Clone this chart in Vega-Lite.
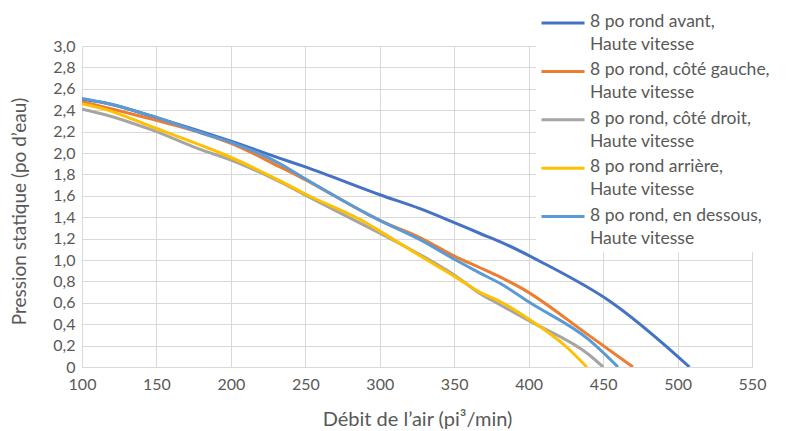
{
  "$schema": "https://vega.github.io/schema/vega-lite/v6.json",
  "width": 670,
  "height": 321,
  "autosize": {"type": "none"},
  "padding": {"left": 82, "top": 46, "right": 34, "bottom": 64},
  "background": "white",
  "config": {
    "font": "Lato",
    "view": {"stroke": null},
    "axis": {
      "labelColor": "#595959",
      "titleColor": "#595959",
      "labelFont": "Lato",
      "titleFont": "Lato",
      "labelFontSize": 16,
      "titleFontSize": 20,
      "titleFontWeight": "normal",
      "gridColor": "#d9d9d9",
      "gridWidth": 1,
      "ticks": false
    }
  },
  "data": {
    "values": [
      {"serie": "8 po rond avant, Haute vitesse", "debit": 100, "pression": 2.50},
      {"serie": "8 po rond avant, Haute vitesse", "debit": 115, "pression": 2.47},
      {"serie": "8 po rond avant, Haute vitesse", "debit": 150, "pression": 2.33},
      {"serie": "8 po rond avant, Haute vitesse", "debit": 200, "pression": 2.11},
      {"serie": "8 po rond avant, Haute vitesse", "debit": 233, "pression": 1.95},
      {"serie": "8 po rond avant, Haute vitesse", "debit": 250, "pression": 1.87},
      {"serie": "8 po rond avant, Haute vitesse", "debit": 300, "pression": 1.61},
      {"serie": "8 po rond avant, Haute vitesse", "debit": 327, "pression": 1.48},
      {"serie": "8 po rond avant, Haute vitesse", "debit": 350, "pression": 1.35},
      {"serie": "8 po rond avant, Haute vitesse", "debit": 367, "pression": 1.25},
      {"serie": "8 po rond avant, Haute vitesse", "debit": 381, "pression": 1.17},
      {"serie": "8 po rond avant, Haute vitesse", "debit": 410, "pression": 0.97},
      {"serie": "8 po rond avant, Haute vitesse", "debit": 455, "pression": 0.61},
      {"serie": "8 po rond avant, Haute vitesse", "debit": 500, "pression": 0.10},
      {"serie": "8 po rond avant, Haute vitesse", "debit": 508, "pression": 0.00},

      {"serie": "8 po rond, côté gauche, Haute vitesse", "debit": 100, "pression": 2.48},
      {"serie": "8 po rond, côté gauche, Haute vitesse", "debit": 146, "pression": 2.32},
      {"serie": "8 po rond, côté gauche, Haute vitesse", "debit": 184, "pression": 2.17},
      {"serie": "8 po rond, côté gauche, Haute vitesse", "debit": 200, "pression": 2.09},
      {"serie": "8 po rond, côté gauche, Haute vitesse", "debit": 233, "pression": 1.87},
      {"serie": "8 po rond, côté gauche, Haute vitesse", "debit": 246, "pression": 1.78},
      {"serie": "8 po rond, côté gauche, Haute vitesse", "debit": 293, "pression": 1.42},
      {"serie": "8 po rond, côté gauche, Haute vitesse", "debit": 300, "pression": 1.37},
      {"serie": "8 po rond, côté gauche, Haute vitesse", "debit": 327, "pression": 1.21},
      {"serie": "8 po rond, côté gauche, Haute vitesse", "debit": 351, "pression": 1.03},
      {"serie": "8 po rond, côté gauche, Haute vitesse", "debit": 367, "pression": 0.93},
      {"serie": "8 po rond, côté gauche, Haute vitesse", "debit": 381, "pression": 0.84},
      {"serie": "8 po rond, côté gauche, Haute vitesse", "debit": 396, "pression": 0.73},
      {"serie": "8 po rond, côté gauche, Haute vitesse", "debit": 440, "pression": 0.30},
      {"serie": "8 po rond, côté gauche, Haute vitesse", "debit": 470, "pression": 0.00},

      {"serie": "8 po rond, côté droit, Haute vitesse", "debit": 100, "pression": 2.41},
      {"serie": "8 po rond, côté droit, Haute vitesse", "debit": 115, "pression": 2.36},
      {"serie": "8 po rond, côté droit, Haute vitesse", "debit": 146, "pression": 2.22},
      {"serie": "8 po rond, côté droit, Haute vitesse", "debit": 184, "pression": 2.01},
      {"serie": "8 po rond, côté droit, Haute vitesse", "debit": 193, "pression": 1.97},
      {"serie": "8 po rond, côté droit, Haute vitesse", "debit": 233, "pression": 1.73},
      {"serie": "8 po rond, côté droit, Haute vitesse", "debit": 251, "pression": 1.60},
      {"serie": "8 po rond, côté droit, Haute vitesse", "debit": 293, "pression": 1.30},
      {"serie": "8 po rond, côté droit, Haute vitesse", "debit": 300, "pression": 1.25},
      {"serie": "8 po rond, côté droit, Haute vitesse", "debit": 327, "pression": 1.05},
      {"serie": "8 po rond, côté droit, Haute vitesse", "debit": 351, "pression": 0.85},
      {"serie": "8 po rond, côté droit, Haute vitesse", "debit": 367, "pression": 0.69},
      {"serie": "8 po rond, côté droit, Haute vitesse", "debit": 381, "pression": 0.58},
      {"serie": "8 po rond, côté droit, Haute vitesse", "debit": 402, "pression": 0.42},
      {"serie": "8 po rond, côté droit, Haute vitesse", "debit": 441, "pression": 0.11},
      {"serie": "8 po rond, côté droit, Haute vitesse", "debit": 450, "pression": 0.00},

      {"serie": "8 po rond arrière, Haute vitesse", "debit": 100, "pression": 2.46},
      {"serie": "8 po rond arrière, Haute vitesse", "debit": 115, "pression": 2.41},
      {"serie": "8 po rond arrière, Haute vitesse", "debit": 146, "pression": 2.25},
      {"serie": "8 po rond arrière, Haute vitesse", "debit": 184, "pression": 2.05},
      {"serie": "8 po rond arrière, Haute vitesse", "debit": 193, "pression": 2.00},
      {"serie": "8 po rond arrière, Haute vitesse", "debit": 233, "pression": 1.74},
      {"serie": "8 po rond arrière, Haute vitesse", "debit": 251, "pression": 1.61},
      {"serie": "8 po rond arrière, Haute vitesse", "debit": 293, "pression": 1.33},
      {"serie": "8 po rond arrière, Haute vitesse", "debit": 300, "pression": 1.27},
      {"serie": "8 po rond arrière, Haute vitesse", "debit": 327, "pression": 1.04},
      {"serie": "8 po rond arrière, Haute vitesse", "debit": 351, "pression": 0.84},
      {"serie": "8 po rond arrière, Haute vitesse", "debit": 367, "pression": 0.70},
      {"serie": "8 po rond arrière, Haute vitesse", "debit": 381, "pression": 0.61},
      {"serie": "8 po rond arrière, Haute vitesse", "debit": 401, "pression": 0.44},
      {"serie": "8 po rond arrière, Haute vitesse", "debit": 426, "pression": 0.18},
      {"serie": "8 po rond arrière, Haute vitesse", "debit": 439, "pression": 0.00},

      {"serie": "8 po rond, en dessous, Haute vitesse", "debit": 100, "pression": 2.51},
      {"serie": "8 po rond, en dessous, Haute vitesse", "debit": 115, "pression": 2.47},
      {"serie": "8 po rond, en dessous, Haute vitesse", "debit": 146, "pression": 2.35},
      {"serie": "8 po rond, en dessous, Haute vitesse", "debit": 184, "pression": 2.17},
      {"serie": "8 po rond, en dessous, Haute vitesse", "debit": 200, "pression": 2.10},
      {"serie": "8 po rond, en dessous, Haute vitesse", "debit": 233, "pression": 1.90},
      {"serie": "8 po rond, en dessous, Haute vitesse", "debit": 251, "pression": 1.75},
      {"serie": "8 po rond, en dessous, Haute vitesse", "debit": 293, "pression": 1.42},
      {"serie": "8 po rond, en dessous, Haute vitesse", "debit": 300, "pression": 1.37},
      {"serie": "8 po rond, en dessous, Haute vitesse", "debit": 327, "pression": 1.19},
      {"serie": "8 po rond, en dessous, Haute vitesse", "debit": 351, "pression": 1.00},
      {"serie": "8 po rond, en dessous, Haute vitesse", "debit": 367, "pression": 0.88},
      {"serie": "8 po rond, en dessous, Haute vitesse", "debit": 381, "pression": 0.78},
      {"serie": "8 po rond, en dessous, Haute vitesse", "debit": 401, "pression": 0.60},
      {"serie": "8 po rond, en dessous, Haute vitesse", "debit": 440, "pression": 0.26},
      {"serie": "8 po rond, en dessous, Haute vitesse", "debit": 460, "pression": 0.00}
    ]
  },
  "mark": {"type": "line", "strokeWidth": 3, "interpolate": "monotone", "clip": true},
  "encoding": {
    "x": {
      "field": "debit",
      "type": "quantitative",
      "scale": {"domain": [100, 550], "nice": false, "zero": false},
      "axis": {
        "values": [100, 150, 200, 250, 300, 350, 400, 450, 500, 550],
        "title": "Débit de l’air (pi³/min)",
        "labelFlush": false,
        "labelPadding": 9,
        "titlePadding": 17,
        "domain": true,
        "domainColor": "#d9d9d9",
        "domainWidth": 1
      }
    },
    "y": {
      "field": "pression",
      "type": "quantitative",
      "scale": {"domain": [0, 3], "nice": false},
      "axis": {
        "values": [0, 0.2, 0.4, 0.6, 0.8, 1.0, 1.2, 1.4, 1.6, 1.8, 2.0, 2.2, 2.4, 2.6, 2.8, 3.0],
        "labelExpr": "datum.value == 0 ? '0' : replace(format(datum.value, '.1f'), '.', ',')",
        "labelFlush": false,
        "title": "Pression statique (po d’eau)",
        "titleFontSize": 19,
        "titleY": 165,
        "labelPadding": 7,
        "titlePadding": 23,
        "domain": false
      }
    },
    "color": {
      "field": "serie",
      "type": "nominal",
      "scale": {
        "domain": [
          "8 po rond avant, Haute vitesse",
          "8 po rond, côté gauche, Haute vitesse",
          "8 po rond, côté droit, Haute vitesse",
          "8 po rond arrière, Haute vitesse",
          "8 po rond, en dessous, Haute vitesse"
        ],
        "range": ["#4472C4", "#ED7D31", "#A5A5A5", "#FFC000", "#5B9BD5"]
      },
      "legend": {
        "title": null,
        "orient": "none",
        "legendX": 454,
        "legendY": -37,
        "padding": 4,
        "fillColor": "white",
        "symbolType": "stroke",
        "symbolSize": 1849,
        "symbolStrokeWidth": 3,
        "labelFont": "Lato",
        "labelFontSize": 17.5,
        "labelColor": "#595959",
        "labelOffset": 4,
        "labelLimit": 300,
        "labelBaseline": "top",
        "rowPadding": 7.4,
        "labelExpr": "[slice(datum.label, 0, indexof(datum.label, ' Haute')), 'Haute vitesse']",
        "encode": {
          "symbols": {"update": {"y": {"value": 10}}},
          "labels": {"update": {"y": {"value": 0}, "lineHeight": {"value": 23}}}
        }
      }
    }
  }
}
